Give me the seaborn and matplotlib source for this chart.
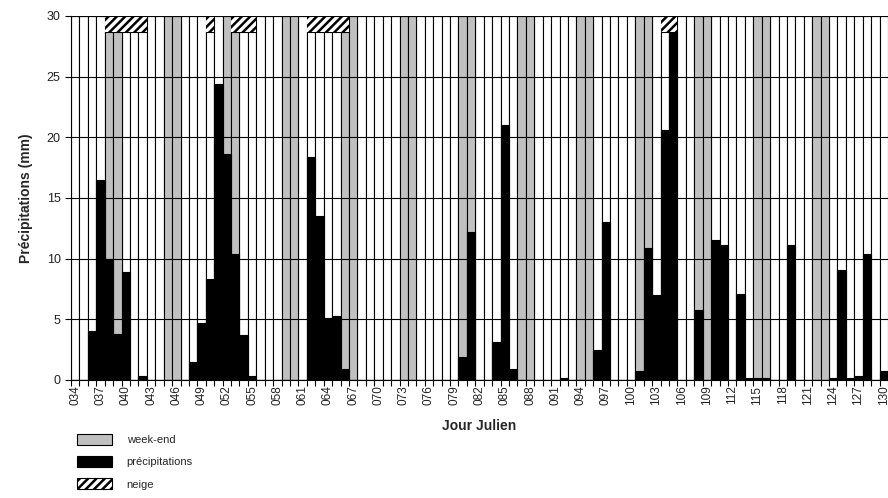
import pandas as pd
import seaborn as sns
import matplotlib.pyplot as plt
from matplotlib.patches import Patch

# jours juliens 034 -> 130
jours = [f'{d:03d}' for d in range(34, 131)]

# precipitations journalieres (mm)
precip = [0, 0, 4.0, 16.5, 10.0, 3.8, 8.9, 0, 0.3, 0,          # 034-043
          0, 0, 0, 0, 1.5, 4.7, 8.3, 24.4, 18.6, 10.4,         # 044-053
          3.7, 0.3, 0, 0, 0, 0, 0, 0, 18.4, 13.5,              # 054-063
          5.1, 5.3, 0.9, 0, 0, 0, 0, 0, 0, 0,                  # 064-073
          0, 0, 0, 0, 0, 0, 1.9, 12.2, 0, 0,                   # 074-083
          3.1, 21.0, 0.9, 0, 0, 0, 0, 0, 0.2, 0,               # 084-093
          0, 0, 2.5, 13.0, 0, 0, 0, 0.7, 10.9, 7.0,            # 094-103
          20.6, 28.7, 0, 0, 5.8, 0, 11.5, 11.1, 0, 7.1,        # 104-113
          0.2, 0.2, 0.2, 0, 0, 11.1, 0, 0, 0, 0,               # 114-123
          0.2, 9.1, 0.2, 0.3, 10.4, 0, 0.7]                    # 124-130

weekend = [38, 39, 45, 46, 52, 53, 59, 60, 66, 67, 73, 74, 80, 81, 87, 88,
           94, 95, 101, 102, 108, 109, 115, 116, 122, 123]
neige = [38, 39, 40, 41, 42, 50, 53, 54, 55, 62, 63, 64, 65, 66, 104, 105]

Y_MAX = 30
NEIGE_BAS = 28.7

df = pd.DataFrame({'jour': jours, 'precip': precip})
df['num'] = df['jour'].astype(int)
df['type'] = df['num'].isin(weekend).map({True: 'week-end', False: 'semaine'})
df['neige'] = df['num'].isin(neige)
df['fond'] = df['neige'].map({True: NEIGE_BAS, False: Y_MAX})
df['neige_h'] = Y_MAX - NEIGE_BAS

sns.set_style('white')
plt.rcParams['font.family'] = ['Liberation Sans', 'DejaVu Sans']
plt.rcParams['hatch.linewidth'] = 1.8

fig = plt.figure(figsize=(8.88, 4.98), dpi=100)
ax = fig.add_axes([0.080, 0.237, 0.920, 0.731])

# colonnes de fond (blanc / gris week-end)
sns.barplot(data=df, x='jour', y='fond', hue='type', order=jours,
            palette={'week-end': '#c0c0c0', 'semaine': 'white'},
            dodge=False, width=1, saturation=1, edgecolor='black',
            linewidth=0.8, legend=False, ax=ax)
# precipitations
sns.barplot(data=df, x='jour', y='precip', order=jours, color='black',
            width=1, saturation=1, edgecolor='black', linewidth=0.8, ax=ax)
# neige (hachures en haut)
sns.barplot(data=df[df['neige']], x='jour', y='neige_h', order=jours,
            bottom=NEIGE_BAS, color='white', width=1, saturation=1,
            edgecolor='black', linewidth=0, hatch='////', ax=ax)

ax.set_xlim(-0.5, 96.3)
ax.set_ylim(0, Y_MAX)
ax.set_yticks(range(0, 31, 5))
ax.yaxis.grid(True, color='black', lw=0.8)
ax.set_axisbelow(False)

ax.set_xticks(range(0, len(jours), 3))
ax.set_xticklabels(jours[::3], rotation=90, fontsize=8.5, color='#222222')
ax.set_xticks([i - 0.5 for i in range(len(jours) + 1)], minor=True)
ax.tick_params(axis='x', which='major', length=0, pad=4)
ax.tick_params(axis='x', which='minor', bottom=True, length=4, width=0.8, color='black')
ax.tick_params(axis='y', left=True, length=4, width=0.8, color='black',
               labelsize=9, labelcolor='#222222')

for s in ['top', 'right']:
    ax.spines[s].set_visible(False)
for s in ['left', 'bottom']:
    ax.spines[s].set_color('black')
    ax.spines[s].set_linewidth(0.8)

ax.set_xlabel('Jour Julien', fontsize=10, fontweight='bold', labelpad=10)
ax.set_ylabel('Précipitations (mm)', fontsize=10, fontweight='bold', labelpad=10)

handles = [Patch(facecolor='#c0c0c0', edgecolor='black', lw=0.8),
           Patch(facecolor='black', edgecolor='black', lw=0.8),
           Patch(facecolor='white', edgecolor='black', lw=0.8, hatch='////')]
fig.legend(handles, ['week-end', 'précipitations', 'neige'],
           loc='upper left', bbox_to_anchor=(0.080, 1 - 428 / 498),
           frameon=False, fontsize=8, handlelength=3.2, handleheight=1.15,
           labelspacing=1.0, handletextpad=1.3, borderpad=0)

fig.savefig('out.png', dpi=100)
